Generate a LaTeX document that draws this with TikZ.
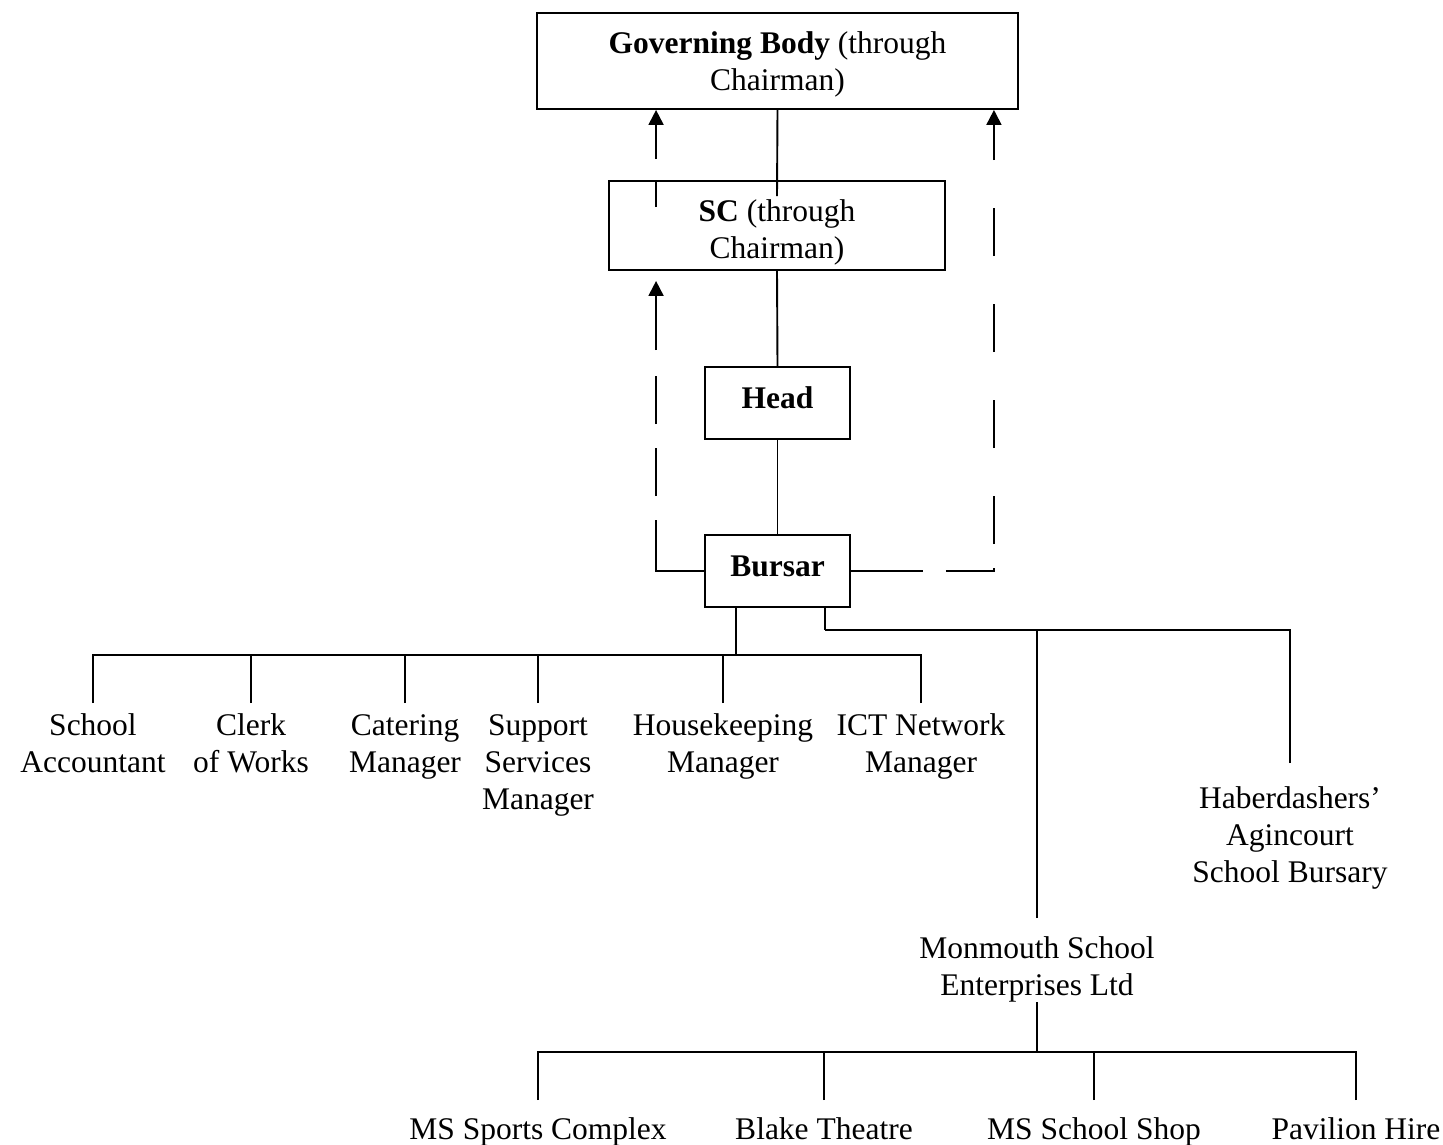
\documentclass[tikz,border=0pt]{standalone}
\usepackage{fontspec}
\setmainfont{Liberation Serif}
\usetikzlibrary{positioning,arrows.meta,calc}
\tikzset{
  box/.style={draw=black, line width=1.9pt, inner sep=0pt, align=center},
  headbox/.style={box, minimum width=145pt, minimum height=72pt, text depth=10pt},
  role/.style={inner sep=0pt, align=center, anchor=north, text height=#1},
  role/.default=69pt,
  link/.style={draw=black, line width=1.9pt},
  report/.style={-{Triangle[length=15pt,width=15pt]}, line width=1.9pt, draw=black},
}

\begin{document}
\begin{tikzpicture}[x=1pt,y=-1pt,font=\fontsize{31.5}{37}\selectfont]
\useasboundingbox (0,0) rectangle (1443,1144);
% chain of command
\node[box, minimum width=481pt, minimum height=96pt, text height=66pt] (gb) at (777.5,61) {\textbf{Governing Body} (through\\Chairman)};
\node[box, minimum width=336pt, minimum height=89pt, text height=72pt] (sc) at (777,225.5) {\textbf{SC} (through\\Chairman)};
\node[headbox] (head) at (777.5,403) {\textbf{Head}};
\node[headbox] (bursar) at (777.5,571) {\textbf{Bursar}};
\coordinate (scin) at ($(sc.north)+(0,16)$);
\draw[link] (gb.south) -- (scin);
\draw[link] (sc.south) -- (head.north);
\draw[link] (head.south) -- (bursar.north);
% reporting lines
\coordinate (lefttip) at ($(sc.south west)+(48,10)$);
\coordinate (scleft) at ($(sc.north west)+(48,27)$);
\coordinate (rightbend) at ($(bursar.east)+(143,0)$);
\draw[report, dash pattern=on 99pt off 24pt on 48pt off 24pt on 48pt off 26pt on 90pt] (bursar.west) -| (lefttip);
\draw[report, dash pattern=on 26pt off 22pt on 70pt] (scleft) -- (scleft |- gb.south);
\draw[report, dash pattern=on 72pt off 23pt on 51pt off 24pt on 48pt off 48pt on 48pt off 48pt on 48pt off 48pt on 48pt off 48pt on 80pt] (bursar.east) -- (rightbend) -- (rightbend |- gb.south);
% staff row
\coordinate (staffjoin) at (736,655);
\node[role] (acct) at (93,703) {School\\Accountant};
\node[role] (clerk) at (251,703) {Clerk\\of Works};
\node[role] (cater) at (405,703) {Catering\\Manager};
\node[role=106pt] (support) at (538,703) {Support\\Services\\Manager};
\node[role] (house) at (723,703) {Housekeeping\\Manager};
\node[role] (ict) at (921,703) {ICT Network\\Manager};
\draw[link] (staffjoin |- bursar.south) -- (staffjoin);
\foreach \who in {acct,clerk,cater,support,house,ict}
  \draw[link] (\who.north) |- (staffjoin);
% companies
\coordinate (firmsjoin) at (825,630);
\node[role=77pt] (mse) at (1037,918) {Monmouth School\\Enterprises Ltd};
\node[role=119pt] (habs) at (1290,763) {Haberdashers'\\Agincourt\\School Bursary};
\draw[link] (firmsjoin |- bursar.south) -- (firmsjoin);
\draw[link] (mse.north) |- (firmsjoin);
\draw[link] (habs.north) |- (firmsjoin);
% enterprises row
\coordinate (venuejoin) at (1037,1052);
\node[role=39pt] (sports) at (538,1100) {MS Sports Complex};
\node[role=39pt] (blake) at (824,1100) {Blake Theatre};
\node[role=39pt] (shop) at (1094,1100) {MS School Shop};
\node[role=39pt] (pavilion) at (1356,1100) {Pavilion Hire};
\draw[link] (mse.south) -- (venuejoin);
\foreach \who in {sports,blake,shop,pavilion}
  \draw[link] (\who.north) |- (venuejoin);
\end{tikzpicture}
\end{document}
